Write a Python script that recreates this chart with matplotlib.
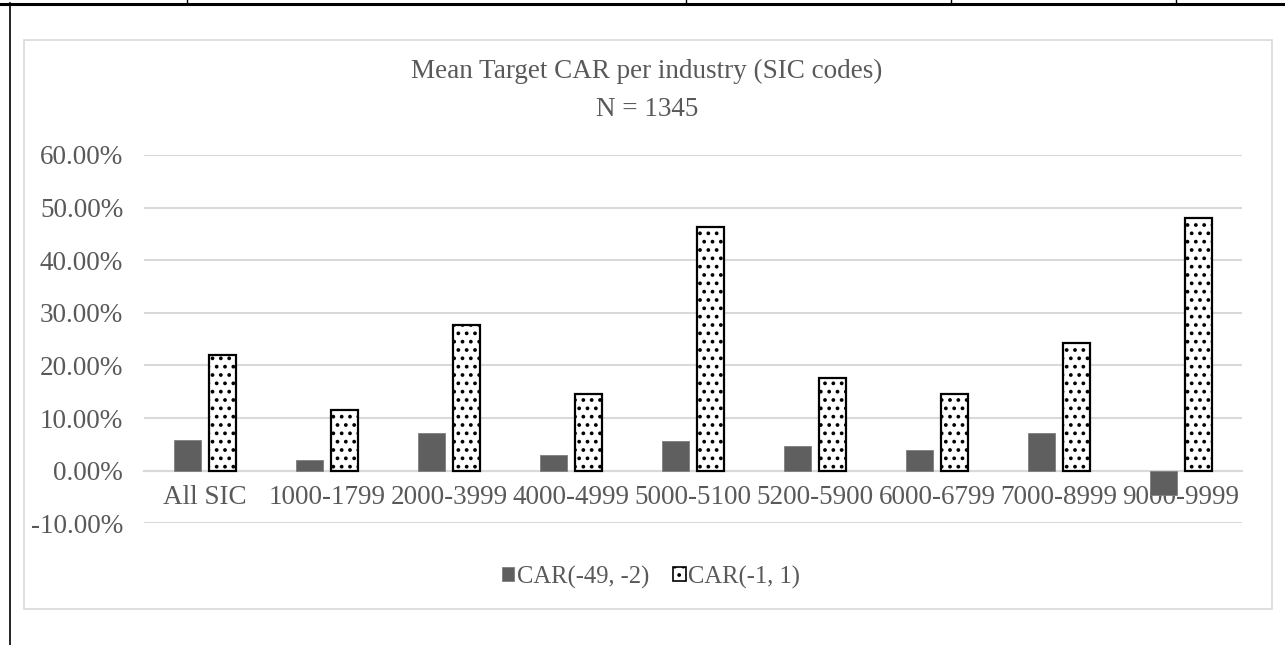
import matplotlib.pyplot as plt
from matplotlib.patches import Patch, Rectangle
from matplotlib.lines import Line2D
from matplotlib.ticker import PercentFormatter
import numpy as np

plt.rcParams['font.family'] = ['Liberation Serif', 'DejaVu Serif']
plt.rcParams['axes.unicode_minus'] = False
plt.rcParams['hatch.linewidth'] = 1.5

categories = ['All SIC', '1000-1799', '2000-3999', '4000-4999', '5000-5100',
              '5200-5900', '6000-6799', '7000-8999', '9000-9999']
car_49_2 = [0.0577, 0.0196, 0.0718, 0.0305, 0.0559, 0.0463, 0.0387, 0.0718, -0.047]
car_1_1 = [0.219, 0.115, 0.277, 0.1467, 0.463, 0.177, 0.145, 0.242, 0.480]
yticks = [-0.10, 0.0, 0.10, 0.20, 0.30, 0.40, 0.50, 0.60]

text_grey = '#595959'
grid_grey = '#d9d9d9'
fs = 19.5

fig = plt.figure(figsize=(12.85, 6.45), dpi=100)

# pixel helpers for figure-level decorations
W, H = 1285, 645
def fx(px):
    return px / W
def fy(py):
    return 1 - py / H

# table borders above the chart
fig.add_artist(Line2D([fx(0), fx(W)], [fy(3.7), fy(3.7)], color='black', lw=2.2))
fig.add_artist(Line2D([fx(10), fx(10)], [fy(3), fy(H)], color='black', lw=1.2))
for xd in [187, 686, 951, 1176]:
    fig.add_artist(Line2D([fx(xd), fx(xd)], [fy(0), fy(3)], color='black', lw=1.0))

# chart frame
fig.add_artist(Rectangle((fx(24), fy(609)), fx(1272) - fx(24), fy(40) - fy(609),
                         transform=fig.transFigure, fill=False,
                         edgecolor=grid_grey, lw=1.2))

ax = fig.add_axes([fx(144), fy(523.3), fx(1242) - fx(144), fy(155) - fy(523.3)])

x = np.arange(len(categories))
w = 0.225
off = 0.143
ax.bar(x - off, car_49_2, w, color='#5f5f5f', edgecolor='#7f7f7f', lw=0.6, zorder=3)
ax.bar(x + off, car_1_1, w, color='white', edgecolor='black', hatch='..', lw=1.6, zorder=3)

ax.set_xlim(-0.5, len(categories) - 0.5)
ax.set_ylim(-0.10, 0.60)
ax.set_yticks(yticks)
ax.yaxis.set_major_formatter(PercentFormatter(1.0, decimals=2))
ax.grid(axis='y', color=grid_grey, lw=1.5)
ax.set_axisbelow(True)

for s in ['top', 'right', 'left']:
    ax.spines[s].set_visible(False)
ax.spines['bottom'].set_position(('data', 0))
ax.spines['bottom'].set_color(grid_grey)
ax.spines['bottom'].set_linewidth(1.5)

ax.set_xticks(x)
ax.set_xticklabels(categories)
ax.tick_params(axis='x', length=0, pad=10, labelsize=fs, labelcolor=text_grey)
ax.tick_params(axis='y', length=0, pad=15, labelsize=fs, labelcolor=text_grey)

fig.text(fx(647), fy(71), 'Mean Target CAR per industry (SIC codes)', ha='center', va='center',
         fontsize=fs, color=text_grey)
fig.text(fx(647), fy(109), 'N = 1345', ha='center', va='center', fontsize=fs, color=text_grey)

handles = [Patch(facecolor='#5f5f5f', edgecolor='#7f7f7f', lw=0.6),
           Patch(facecolor='white', edgecolor='black', hatch='..', lw=1.2)]
fig.legend(handles, ['CAR(-49, -2)', 'CAR(-1, 1)'], loc='center',
           bbox_to_anchor=(fx(651), fy(577)), ncol=2, frameon=False, fontsize=17.7,
           labelcolor=text_grey, handlelength=0.49, handleheight=0.49,
           handletextpad=0.1, columnspacing=1.0, borderpad=0)

fig.savefig('out.png', dpi=100)
